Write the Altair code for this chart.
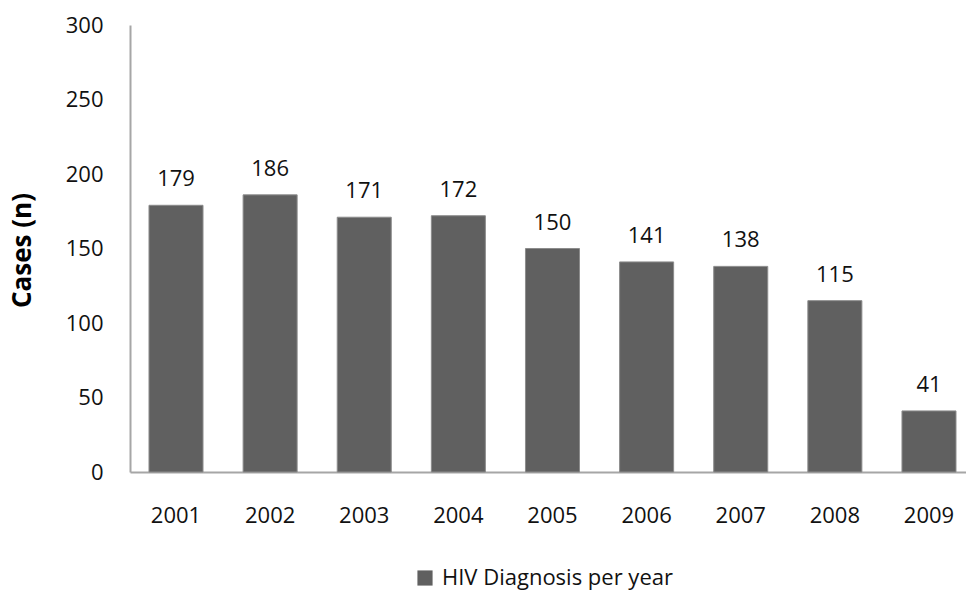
import altair as alt
import pandas as pd

years = ["2001", "2002", "2003", "2004", "2005", "2006", "2007", "2008", "2009"]
cases = [179, 186, 171, 172, 150, 141, 138, 115, 41]
series = "HIV Diagnosis per year"

df = pd.DataFrame({"year": years, "cases": cases, "series": [series] * len(years)})

FONT = "Open Sans"
FS = 22

base = alt.Chart(df).encode(
    x=alt.X(
        "year:N",
        sort=years,
        scale=alt.Scale(paddingInner=0.426, paddingOuter=0.154, align=0.655),
        axis=alt.Axis(
            title=None, labelAngle=0, ticks=False, labelPadding=33,
            domainColor="#a6a6a6", domainWidth=2, labelFontSize=FS,
            labelColor="#111111", labelFont=FONT,
        ),
    ),
    y=alt.Y(
        "cases:Q",
        scale=alt.Scale(domain=[0, 300], nice=False),
        axis=alt.Axis(
            title="Cases (n)", values=[0, 50, 100, 150, 200, 250, 300],
            ticks=False, grid=False, labelPadding=27, domainColor="#a6a6a6",
            domainWidth=2, labelFontSize=FS, labelColor="#111111", labelFont=FONT,
            titleFont=FONT, titleFontSize=26, titleFontWeight="bold",
            titleColor="#000000", titleX=-95, titleY=225, titleAngle=-90,
            titleAlign="center",
        ),
    ),
)

bars = base.mark_bar(stroke="#8c8c8c", strokeWidth=1).encode(
    color=alt.Color(
        "series:N",
        scale=alt.Scale(range=["#606060"]),
        legend=alt.Legend(
            title=None, orient="none", legendX=284, legendY=542,
            symbolType="square", symbolSize=230, symbolStrokeWidth=0,
            labelFontSize=22, labelFont=FONT, labelColor="#111111",
            labelLimit=500, labelOffset=6,
        ),
    )
)

labels = base.mark_text(
    dy=-26, baseline="middle", fontSize=FS, font=FONT, color="#111111"
).encode(text="cases:Q")

chart = (
    (bars + labels)
    .properties(
        width=836,
        height=447,
        autosize=alt.AutoSizeParams(type="none"),
        padding={"left": 130, "top": 25, "right": 0, "bottom": 118},
        background="white",
    )
    .configure_view(stroke=None)
)

chart.save("out.html", embed_options={"renderer": "svg", "actions": False})
